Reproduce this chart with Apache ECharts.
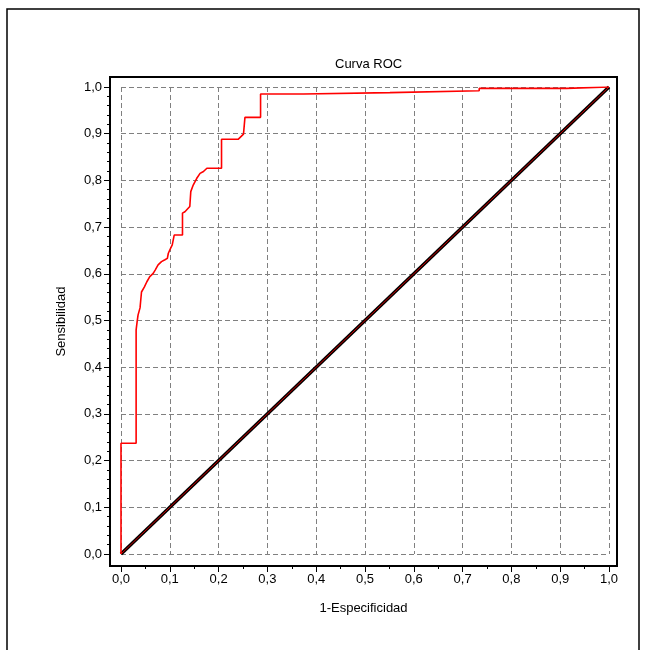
<!DOCTYPE html>
<html>
<head>
<meta charset="utf-8">
<script src="https://cdn.jsdelivr.net/npm/echarts@6/dist/echarts.min.js"></script>
<style>html,body{margin:0;padding:0;background:#fff;}#c{width:649px;height:650px;}</style>
</head>
<body>
<div id="c"></div>
<script>
var titleText = 'Curva ROC';
var xName = '1-Especificidad';
var yName = 'Sensibilidad';

var majorTicks = [0, 0.1, 0.2, 0.3, 0.4, 0.5, 0.6, 0.7, 0.8, 0.9, 1.0];
var xMinorTicks = [0.05, 0.15, 0.25, 0.35, 0.45, 0.55, 0.65, 0.75, 0.85, 0.95];
var yMinorTicks = [0.02, 0.04, 0.06, 0.08, 0.12, 0.14, 0.16, 0.18, 0.22, 0.24, 0.26, 0.28,
  0.32, 0.34, 0.36, 0.38, 0.42, 0.44, 0.46, 0.48, 0.52, 0.54, 0.56, 0.58,
  0.62, 0.64, 0.66, 0.68, 0.72, 0.74, 0.76, 0.78, 0.82, 0.84, 0.86, 0.88,
  0.92, 0.94, 0.96, 0.98];

var rocX = [0, 0, 0.031, 0.031, 0.033, 0.035, 0.039, 0.042, 0.048, 0.053, 0.059, 0.066, 0.070, 0.076, 0.083, 0.090, 0.095, 0.097, 0.100, 0.105, 0.109, 0.109, 0.126, 0.126, 0.131, 0.141, 0.143, 0.148, 0.155, 0.162, 0.169, 0.176, 0.206, 0.206, 0.240, 0.251, 0.254, 0.286, 0.286, 0.374, 0.374, 0.551, 0.551, 0.734, 0.734, 0.913, 0.913, 1.0];
var rocY = [0, 0.237, 0.237, 0.480, 0.497, 0.512, 0.527, 0.561, 0.572, 0.583, 0.594, 0.601, 0.608, 0.619, 0.626, 0.630, 0.633, 0.644, 0.651, 0.662, 0.665, 0.683, 0.683, 0.730, 0.733, 0.744, 0.776, 0.790, 0.804, 0.815, 0.819, 0.826, 0.826, 0.888, 0.888, 0.899, 0.935, 0.935, 0.985, 0.985, 0.988, 0.988, 0.992, 0.992, 0.997, 0.997, 1.0, 1.0];

var diagX = [0, 1];
var diagY = [0, 1];

function pairs(xs, ys) { return xs.map(function (x, i) { return [x, ys[i]]; }); }
function fmt(v) { return (Math.round(v * 10) / 10).toFixed(1).replace('.', ','); }

var FONT = 'Liberation Sans';

// inner plotting box (0..1) and outer frame box, in pixels
var inner = { left: 121, right: 40, top: 87, bottom: 96 };
var outer = { left: 110, right: 32, top: 77, bottom: 84 };
var W = 649, H = 650;
var innerW = W - inner.left - inner.right, innerH = H - inner.top - inner.bottom;
var xOuterMin = -(inner.left - outer.left) / innerW;
var xOuterMax = 1 + (inner.right - outer.right) / innerW;
var yOuterMin = -(inner.bottom - outer.bottom) / innerH;
var yOuterMax = 1 + (inner.top - outer.top) / innerH;

var chart = echarts.init(document.getElementById('c'), null, { renderer: 'canvas' });

var txt = { fontFamily: FONT, fontSize: 13, color: '#000' };
var noLine = { show: false, onZero: false };

chart.setOption({
  animation: false,
  backgroundColor: '#ffffff',
  title: {
    text: titleText, left: 330, top: 53,
    textStyle: { fontFamily: FONT, fontSize: 13, fontWeight: 'normal', color: '#000' }
  },
  graphic: [{
    type: 'rect', shape: { x: 7, y: 9, width: 632, height: 660 },
    style: { fill: 'none', stroke: '#000', lineWidth: 1.5 }, silent: true
  }],
  grid: [
    { left: outer.left, right: outer.right, top: outer.top, bottom: outer.bottom, show: true, borderColor: '#000', borderWidth: 2, backgroundColor: 'transparent', containLabel: false, z: 10 },
    { left: inner.left, right: inner.right, top: inner.top, bottom: inner.bottom, containLabel: false },
    { left: outer.left, right: outer.right, top: outer.top, bottom: outer.bottom, containLabel: false }
  ],
  xAxis: [
    {
      gridIndex: 0, type: 'value', min: xOuterMin, max: xOuterMax, position: 'bottom',
      name: xName, nameLocation: 'middle', nameGap: 36, nameTextStyle: txt,
      axisLine: noLine, splitLine: { show: false },
      axisTick: { show: true, length: 6, customValues: majorTicks, lineStyle: { color: '#000', width: 1 } },
      axisLabel: { show: true, customValues: majorTicks, formatter: fmt, margin: 7, fontFamily: FONT, fontSize: 13, color: '#000' }
    },
    {
      gridIndex: 1, type: 'value', min: 0, max: 1, interval: 0.1,
      axisLine: noLine, axisTick: { show: false }, axisLabel: { show: false },
      splitLine: { show: true, lineStyle: { color: '#808080', type: [5, 3], width: 1 } }
    },
    {
      gridIndex: 2, type: 'value', min: xOuterMin, max: xOuterMax, position: 'bottom',
      axisLine: noLine, splitLine: { show: false }, axisLabel: { show: false },
      axisTick: { show: true, length: 3, customValues: xMinorTicks, lineStyle: { color: '#000', width: 1 } }
    }
  ],
  yAxis: [
    {
      gridIndex: 0, type: 'value', min: yOuterMin, max: yOuterMax, position: 'left',
      name: yName, nameLocation: 'middle', nameGap: 42, nameRotate: 90, nameTextStyle: txt,
      axisLine: noLine, splitLine: { show: false },
      axisTick: { show: true, length: 6, customValues: majorTicks, lineStyle: { color: '#000', width: 1 } },
      axisLabel: { show: true, customValues: majorTicks, formatter: fmt, margin: 8, fontFamily: FONT, fontSize: 13, color: '#000' }
    },
    {
      gridIndex: 1, type: 'value', min: 0, max: 1, interval: 0.1,
      axisLine: noLine, axisTick: { show: false }, axisLabel: { show: false },
      splitLine: { show: true, lineStyle: { color: '#808080', type: [5, 3], width: 1 } }
    },
    {
      gridIndex: 2, type: 'value', min: yOuterMin, max: yOuterMax, position: 'left',
      axisLine: noLine, splitLine: { show: false }, axisLabel: { show: false },
      axisTick: { show: true, length: 3, customValues: yMinorTicks, lineStyle: { color: '#000', width: 1 } }
    }
  ],
  series: [
    {
      type: 'line', xAxisIndex: 1, yAxisIndex: 1, data: pairs(diagX, diagY),
      showSymbol: false, lineStyle: { color: '#000', width: 3.5 }, z: 3
    },
    {
      type: 'line', xAxisIndex: 1, yAxisIndex: 1, data: pairs(diagX, diagY),
      showSymbol: false, lineStyle: { color: '#cc0000', width: 1 }, z: 4
    },
    {
      type: 'line', xAxisIndex: 1, yAxisIndex: 1, data: pairs(rocX, rocY),
      showSymbol: false, lineStyle: { color: '#ff0000', width: 1.6 }, z: 5
    }
  ]
});
</script>
</body>
</html>
